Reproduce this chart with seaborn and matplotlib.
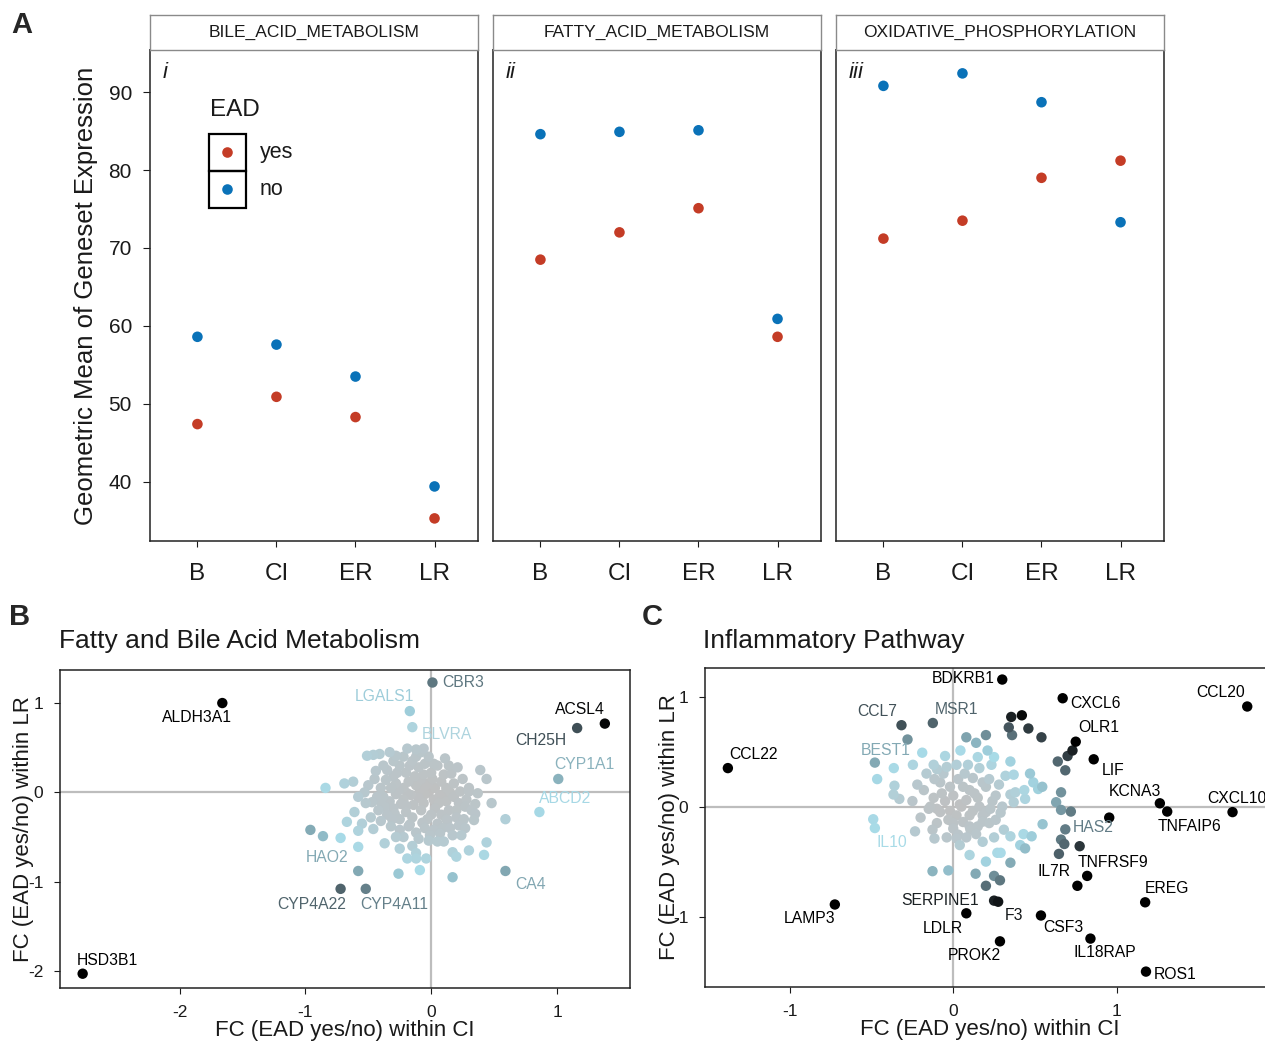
import numpy as np
import pandas as pd
import matplotlib
matplotlib.use("Agg")
import matplotlib.pyplot as plt
import seaborn as sns
from matplotlib.colors import LinearSegmentedColormap
from matplotlib.patches import Rectangle

# ---------------- DATA ----------------
stages = ["B", "CI", "ER", "LR"]
pathways = ["BILE_ACID_METABOLISM", "FATTY_ACID_METABOLISM", "OXIDATIVE_PHOSPHORYLATION"]
facet_tags = ["i", "ii", "iii"]
bile_yes = [47.4, 50.9, 48.3, 35.3]
bile_no = [58.6, 57.6, 53.5, 39.4]
fatty_yes = [68.5, 72.0, 75.1, 58.6]
fatty_no = [84.6, 84.9, 85.1, 60.9]
oxphos_yes = [71.2, 73.5, 79.0, 81.2]
oxphos_no = [90.8, 92.4, 88.7, 73.3]

# Panel B: labelled genes
genes_b = ["CBR3", "LGALS1", "BLVRA", "ACSL4", "CH25H", "CYP1A1", "ABCD2", "CA4",
           "HAO2", "CYP4A22", "CYP4A11", "ALDH3A1", "HSD3B1"]
xb_named = [0.01, -0.17, -0.15, 1.38, 1.16, 1.01, 0.86, 0.59, -0.58, -0.72, -0.52, -1.66, -2.77]
yb_named = [1.23, 0.91, 0.73, 0.77, 0.72, 0.15, -0.22, -0.88, -0.88, -1.08, -1.08, 1.00, -2.03]
# Panel B: other genes
xb_other = [-0.84, -0.69, -0.62, -0.51, -0.46, -0.41, -0.28, -0.19, -0.12, -0.06, 0.39, 0.44, 0.14, 0.16,
            0.23, 0.30, 0.48, 0.59, -0.96, -0.86, -0.72, -0.58, -0.26, -0.09, -0.37, -0.25, -0.19, -0.12,
            -0.04, -0.12, 0.17, 0.17, 0.20, 0.30, 0.42, 0.44, -0.67, -0.61, -0.58, -0.46, -0.47, -0.40,
            0.07, 0.17, 0.24, -0.02, 0.37, 0.35, 0.27, 0.35, 0.34, 0.22, 0.13,
            -0.35, -0.30, -0.25, -0.20, -0.15, -0.10, -0.05, 0.00, 0.05, -0.02, -0.12, -0.28, -0.22, -0.18,
            -0.12, -0.08, -0.02, 0.03, 0.08, 0.12, 0.18, -0.40, -0.45, -0.38, -0.33, -0.28, -0.22, -0.16,
            -0.10, -0.05, 0.02, 0.07, 0.12, 0.18, 0.22, -0.42, -0.35, -0.30, -0.25, -0.20, -0.15, -0.08,
            -0.03, 0.03, 0.08, 0.14, 0.20, -0.32, -0.25, -0.18, -0.12, -0.05, 0.02, 0.05, -0.40, -0.48,
            -0.52, -0.55, 0.28, 0.32, 0.25, 0.30, -0.08, 0.10, -0.30, -0.38, -0.50, -0.58, 0.15, -0.10,
            -0.22, 0.10, -0.02, -0.14, -0.26, 0.06, -0.06, -0.20]
yb_other = [0.05, 0.10, 0.12, 0.41, 0.42, 0.43, 0.41, 0.49, 0.48, 0.49, 0.25, 0.15, 0.30, 0.21,
            0.01, 0.01, -0.12, -0.30, -0.42, -0.49, -0.51, -0.61, -0.91, -0.87, -0.57, -0.63, -0.74, -0.74,
            -0.74, -0.68, -0.95, -0.67, -0.72, -0.65, -0.70, -0.56, -0.33, -0.22, -0.43, -0.41, -0.11, -0.11,
            -0.46, -0.48, -0.48, -0.54, -0.01, -0.24, -0.16, -0.13, -0.31, -0.37, -0.31,
            0.25, 0.18, 0.30, 0.22, 0.35, 0.28, 0.32, 0.22, 0.30, 0.40, 0.40, 0.10, 0.05, 0.12,
            0.08, 0.15, 0.10, 0.05, 0.12, 0.05, 0.10, 0.05, 0.15, -0.05, -0.10, -0.02, -0.08, -0.03,
            -0.06, -0.02, -0.08, -0.03, -0.10, -0.05, -0.12, -0.20, -0.25, -0.18, -0.30, -0.22, -0.28, -0.20,
            -0.30, -0.18, -0.25, -0.20, -0.28, -0.38, -0.42, -0.38, -0.45, -0.40, -0.42, -0.35, -0.32, -0.28,
            -0.12, -0.35, -0.08, -0.20, 0.15, 0.05, 0.45, 0.20, 0.35, 0.30, 0.08, -0.05, -0.40, -0.52,
            -0.50, -0.55, 0.00, -0.14, 0.02, -0.12, 0.20, -0.15]
xb_core = [-0.32, -0.27, -0.13, -0.04, 0.01, -0.36, -0.24, -0.17, -0.07, 0.00, 0.10, 0.15, -0.43, -0.31,
           -0.06, -0.01, 0.09, 0.20, 0.26, -0.22, -0.17, 0.02, -0.09, -0.19, -0.29, -0.37, 0.11, 0.05,
           -0.15, -0.28, 0.12, -0.44, -0.33, 0.21, 0.27, -0.53]
yb_core = [0.05, 0.22, 0.18, 0.08, 0.15, 0.14, -0.13, -0.36, -0.34, -0.25, -0.02, 0.00, -0.05, -0.30,
           -0.12, -0.48, -0.40, -0.20, -0.30, 0.40, 0.30, 0.32, 0.02, -0.01, -0.24, -0.16, 0.38, -0.55,
           -0.60, -0.50, -0.30, 0.24, 0.45, 0.28, -0.40, 0.00]

# Panel C: labelled genes
genes_c = ["BDKRB1", "CXCL6", "CCL20", "OLR1", "LIF", "KCNA3", "TNFAIP6", "CXCL10", "HAS2",
           "TNFRSF9", "EREG", "IL7R", "CSF3", "IL18RAP", "ROS1", "PROK2", "LDLR", "SERPINE1", "F3",
           "LAMP3", "CCL22", "CCL7", "MSR1", "BEST1", "IL10"]
xc_named = [0.30, 0.67, 1.80, 0.75, 0.86, 1.265, 1.31, 1.71, 0.686,
            0.82, 1.175, 0.76, 0.537, 0.84, 1.18, 0.286, 0.08, 0.25, 0.275,
            -0.725, -1.38, -0.317, -0.125, -0.48, -0.48]
yc_named = [1.155, 0.985, 0.91, 0.59, 0.43, 0.03, -0.045, -0.05, -0.207,
            -0.63, -0.87, -0.72, -0.99, -1.20, -1.50, -1.225, -0.97, -0.855, -0.865,
            -0.89, 0.35, 0.74, 0.76, 0.40, -0.195]
# Panel C: other genes
xc_other = [0.955, 0.20, 0.25, 0.286, -0.127, -0.03, 0.137, 0.10, 0.20, 0.27, 0.29, 0.35, 0.44, 0.43,
            0.48, 0.547, 0.647, 0.68, 0.66, 0.774, 0.72, 0.66, 0.63, 0.66, 0.545, 0.52, 0.435, 0.49,
            0.47, 0.38, 0.44, 0.37, 0.35, 0.64, 0.686, 0.70, 0.73, 0.54, 0.46, 0.36, 0.34, 0.355, 0.42,
            0.20, 0.08, 0.14, 0.21, 0.044, -0.05, -0.19, 0.234, 0.35, 0.37, 0.09, -0.28, -0.466, -0.364,
            -0.36, -0.366, -0.33, -0.164, -0.115, -0.10, -0.247, -0.49, -0.234, -0.127, -0.115, 0.02,
            0.03, 0.105, 0.14, 0.18, 0.227, 0.29, 0.31, 0.35, 0.41,
            -0.05, 0.00, 0.05, -0.08, 0.02, 0.08, -0.12, 0.12, 0.15, -0.03, 0.06, 0.10, -0.15, 0.18,
            0.20, -0.02, 0.03, 0.12, 0.22, 0.26, -0.18, -0.10, 0.15, 0.22, -0.20, 0.00, 0.08, -0.06,
            0.28, 0.30, -0.25, -0.22, 0.16, 0.02, -0.12, 0.25, 0.18, 0.04, -0.04, 0.32]
yc_other = [-0.10, -0.72, -0.63, -0.67, -0.587, -0.58, -0.61, -0.44, -0.50, -0.42, -0.42, -0.51, -0.38, -0.25,
            -0.27, -0.16, -0.43, -0.34, -0.30, -0.36, -0.045, -0.03, 0.04, 0.13, 0.18, 0.16, 0.15, 0.22,
            0.30, 0.13, 0.07, 0.04, 0.11, 0.41, 0.33, 0.46, 0.51, 0.63, 0.71, 0.65, 0.72, 0.815, 0.83,
            0.65, 0.63, 0.58, 0.51, 0.51, 0.46, 0.49, 0.38, 0.41, 0.29, 0.38, 0.61, 0.25, 0.35,
            0.19, 0.11, 0.07, 0.30, 0.25, 0.34, 0.38, -0.115, -0.225, -0.21, -0.29, -0.29,
            -0.255, -0.21, -0.25, -0.137, -0.02, -0.055, -0.21, -0.27, -0.35,
            0.05, 0.10, 0.00, -0.05, -0.08, 0.06, 0.08, -0.04, 0.08, -0.12, -0.14, 0.15, -0.02, -0.08,
            0.18, 0.18, 0.25, 0.26, 0.25, 0.10, 0.15, -0.15, -0.18, -0.15, -0.10, -0.20, -0.28, 0.30,
            0.20, 0.00, 0.05, 0.20, 0.35, 0.38, 0.38, -0.28, -0.32, -0.35, -0.28, 0.28]
xc_core = [-0.07, 0.04, 0.10, -0.10, 0.16, 0.06, -0.02, 0.13, 0.24, 0.18, -0.08, 0.00, 0.10, 0.07,
           -0.14, 0.20, 0.26, -0.04, 0.15, 0.25]
yc_core = [0.12, 0.02, -0.08, -0.02, 0.00, 0.18, -0.04, 0.12, 0.05, 0.22, 0.22, -0.15, -0.18, 0.30,
           0.00, -0.05, -0.12, 0.36, 0.45, 0.45]

# ---------------- STYLE / LAYOUT ----------------
label_off_b = {"CBR3": (10, 0, "left"), "LGALS1": (-25, 15, "center"), "BLVRA": (9, -7, "left"),
               "ACSL4": (-25, 14, "center"), "CH25H": (-36, -12, "center"), "CYP1A1": (26, 14, "center"),
               "ABCD2": (26, 14, "center"), "CA4": (25, -14, "center"), "HAO2": (-31, 13, "center"),
               "CYP4A22": (-29, -16, "center"), "CYP4A11": (28, -16, "center"),
               "ALDH3A1": (-25, -14, "center"), "HSD3B1": (25, 13, "center")}
label_off_c = {"BDKRB1": (-8, 1, "right"), "CXCL6": (8, -5, "left"), "CCL20": (-27, 14, "center"),
               "OLR1": (23, 14, "center"), "LIF": (19, -11, "center"), "KCNA3": (-25, 12, "center"),
               "TNFAIP6": (22, -15, "center"), "CXCL10": (4, 14, "center"), "HAS2": (28, 2, "center"),
               "TNFRSF9": (26, 13, "center"), "EREG": (22, 14, "center"), "IL7R": (-23, 14, "center"),
               "CSF3": (22, -12, "center"), "IL18RAP": (14, -14, "center"), "ROS1": (8, -3, "left"),
               "PROK2": (-26, -14, "center"), "LDLR": (-24, -15, "center"), "SERPINE1": (-15, 0, "right"),
               "F3": (16, -14, "center"), "LAMP3": (-25, -14, "center"), "CCL22": (26, 14, "center"),
               "CCL7": (-24, 14, "center"), "MSR1": (24, 14, "center"), "BEST1": (11, 12, "center"),
               "IL10": (17, -14, "center")}

W, H = 1265, 1042
RED, BLUE = "#c43c26", "#0a72b8"
TXT = "#1a1a1a"


def rect(x0, y0, x1, y1):
    return [x0 / W, 1 - y1 / H, (x1 - x0) / W, (y1 - y0) / H]


sns.set_style("white")
plt.rcParams["font.family"] = ["Liberation Sans", "DejaVu Sans"]

fig = plt.figure(figsize=(W / 100, H / 100), dpi=100)

cmap = LinearSegmentedColormap.from_list(
    "fc", [(0.0, "#c0c0c0"), (0.3, "#b9c6cb"), (0.55, "#a8dbe8"), (0.68, "#7c9faa"),
           (0.84, "#46575f"), (1.0, "#000000")])

# ---------------- PANEL A ----------------
series = [(bile_yes, bile_no), (fatty_yes, fatty_no), (oxphos_yes, oxphos_no)]
fx = [(150, 478), (493, 821), (836, 1164)]
for k, ((yes, no), (x0, x1)) in enumerate(zip(series, fx)):
    ax = fig.add_axes(rect(x0, 50, x1, 541))
    df = pd.DataFrame({"stage": stages * 2, "value": yes + no, "EAD": ["yes"] * 4 + ["no"] * 4})
    sns.scatterplot(data=df, x="stage", y="value", hue="EAD", palette={"yes": RED, "no": BLUE},
                    s=58, edgecolor="none", legend=False, ax=ax, zorder=3)
    ax.set_xlim(-0.6, 3.55)
    ax.set_ylim(32.4, 95.4)
    ax.set_xlabel("")
    ax.set_ylabel("")
    for sp in ax.spines.values():
        sp.set_color("#222222")
        sp.set_linewidth(1.1)
    ax.tick_params(axis="x", labelsize=17.5, length=4, pad=12, colors=TXT, direction="out", bottom=True)
    if k == 0:
        ax.set_yticks([40, 50, 60, 70, 80, 90])
        ax.tick_params(axis="y", labelsize=15, length=5, pad=8, colors=TXT, direction="out", left=True)
        ax.set_ylabel("Geometric Mean of Geneset Expression", fontsize=18.5, color=TXT)
        ax.yaxis.set_label_coords(-0.16, 0.5)
    else:
        ax.set_yticks([])
    ax.text(13 / 328, (541 - 73) / 491, facet_tags[k], transform=ax.transAxes, fontsize=16,
            style="italic", ha="left", va="center", color=TXT)
    # strip
    sax = fig.add_axes(rect(x0, 15, x1, 50))
    sax.set_xticks([])
    sax.set_yticks([])
    for sp in sax.spines.values():
        sp.set_color("#8a8a8a")
        sp.set_linewidth(1.0)
    sax.text(0.5, 0.5, pathways[k], ha="center", va="center", fontsize=12.5, color=TXT,
             transform=sax.transAxes)
    if k == 0:
        def pa(px, py):
            return ((px - x0) / 328, (541 - py) / 491)
        ax.text(*pa(210, 110), "EAD", transform=ax.transAxes, fontsize=17.5, ha="left", va="center",
                color=TXT)
        for (py0, py1, col, lab) in [(134, 171, RED, "yes"), (171, 208, BLUE, "no")]:
            bx, by = pa(209, py1)
            bw = 37 / 328
            bh = 37 / 491
            ax.add_patch(Rectangle((bx, by), bw, bh, transform=ax.transAxes, fill=False,
                                   edgecolor="black", linewidth=1.6, zorder=4))
            cx, cy = pa(227.5, (py0 + py1) / 2)
            ax.scatter([cx], [cy], s=58, color=col, transform=ax.transAxes, zorder=5,
                       edgecolor="none")
            tx, ty = pa(260, (py0 + py1) / 2)
            ax.text(tx, ty, lab, transform=ax.transAxes, fontsize=15.5, ha="left", va="center",
                    color=TXT)

fig.text(22 / W, 1 - 25 / H, "A", fontsize=21, fontweight="bold", ha="center", va="center")
fig.text(20 / W, 1 - 617 / H, "B", fontsize=21, fontweight="bold", ha="center", va="center")
fig.text(652 / W, 1 - 617 / H, "C", fontsize=21, fontweight="bold", ha="center", va="center")


# ---------------- PANELS B & C ----------------
def fc_panel(box, xn, yn, names, xo, yo, offs, black_frac, xlim, ylim, xticks, yticks,
             title, title_x, ylab_x, xlab_y):
    ax = fig.add_axes(rect(*box))
    xs = np.array(xn + xo, dtype=float)
    ys = np.array(yn + yo, dtype=float)
    dist = np.hypot(xs, ys)
    tval = np.clip(dist / (black_frac * dist.max()), 0, 1)
    df = pd.DataFrame({"x": xs, "y": ys, "t": tval}).sort_values("t")
    ax.axhline(0, color="#bdbdbd", lw=1.6, zorder=0)
    ax.axvline(0, color="#bdbdbd", lw=1.6, zorder=0)
    sns.scatterplot(data=df, x="x", y="y", hue="t", palette=cmap, hue_norm=(0, 1), s=56,
                    edgecolor="none", legend=False, ax=ax, zorder=3)
    for i, nm in enumerate(names):
        dx, dy, ha = offs[nm]
        ax.annotate(nm, (xn[i], yn[i]), xytext=(dx, dy), textcoords="offset pixels",
                    ha=ha, va="center", fontsize=11.3, color=cmap(tval[i]), zorder=4)
    ax.set_xlim(*xlim)
    ax.set_ylim(*ylim)
    ax.set_xticks(xticks)
    ax.set_yticks(yticks)
    ax.set_xticklabels([str(v) for v in xticks])
    ax.set_yticklabels([str(v) for v in yticks])
    ax.tick_params(labelsize=12.5, length=4, pad=8, colors=TXT, direction="out", bottom=True, left=True)
    for sp in ax.spines.values():
        sp.set_color("#222222")
        sp.set_linewidth(1.1)
    ax.set_xlabel("FC (EAD yes/no) within CI", fontsize=16, color=TXT)
    ax.set_ylabel("FC (EAD yes/no) within LR", fontsize=16, color=TXT)
    ax.xaxis.set_label_coords(0.5, xlab_y)
    ax.yaxis.set_label_coords(ylab_x, 0.5)
    fig.text(title_x / W, 1 - 641 / H, title, fontsize=19, ha="left", va="center", color=TXT)
    return ax


fc_panel((60, 670, 630, 988), xb_named, yb_named, genes_b, xb_other + xb_core, yb_other + yb_core,
         label_off_b, 0.466, (-2.95, 1.58), (-2.19, 1.37), [-2, -1, 0, 1], [-2, -1, 0, 1],
         "Fatty and Bile Acid Metabolism", 59, -0.046, -0.10)
fc_panel((705, 668, 1275, 987), xc_named, yc_named, genes_c, xc_other + xc_core, yc_other + yc_core,
         label_off_c, 0.47, (-1.52, 1.97), (-1.64, 1.26), [-1, 0, 1], [-1, 0, 1],
         "Inflammatory Pathway", 703, -0.044, -0.10)

fig.savefig("out.png", dpi=100)
